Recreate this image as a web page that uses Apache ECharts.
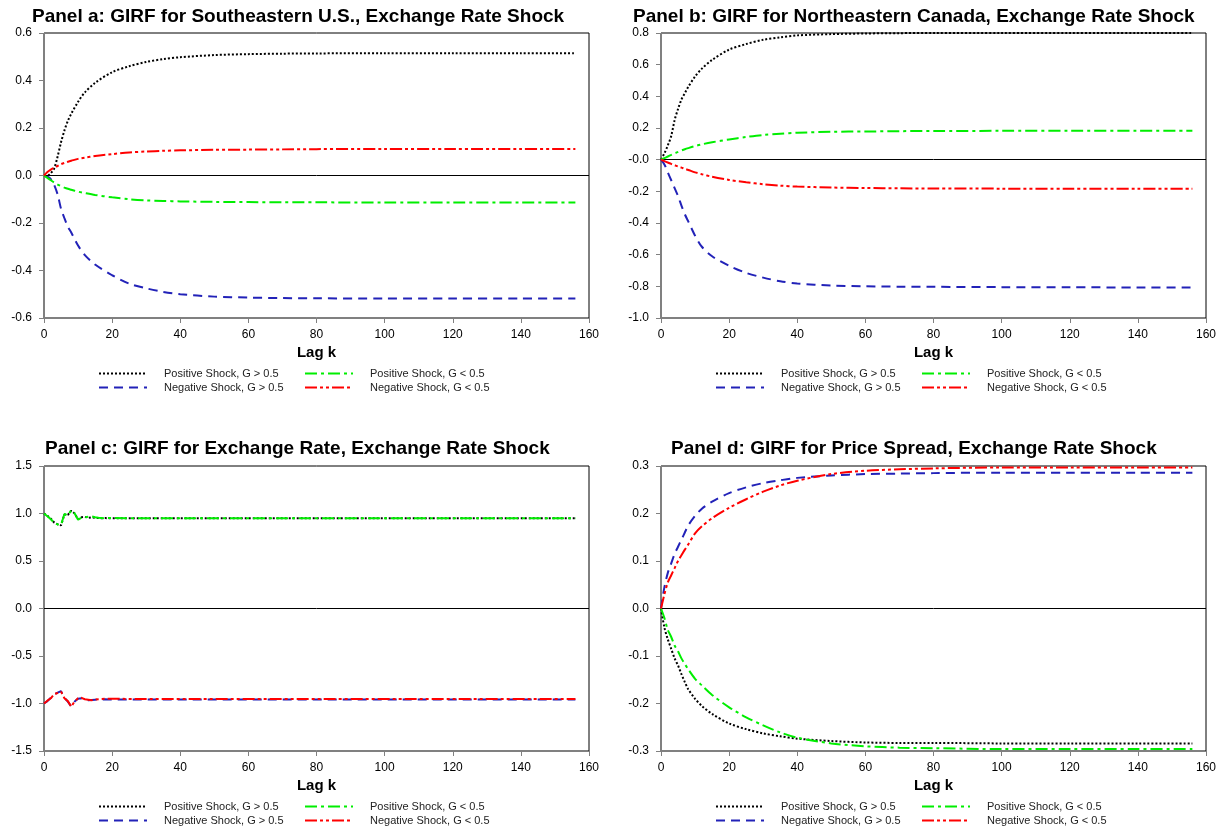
<!DOCTYPE html>
<html>
<head>
<meta charset="utf-8">
<script src="https://cdn.jsdelivr.net/npm/echarts@6/dist/echarts.min.js"></script>
<style>
html,body{margin:0;padding:0;background:#fff;}
#chart{width:1228px;height:829px;}
</style>
</head>
<body>
<div id="chart"></div>
<script>
// ---------- DATA ----------
const seriesNames = ['Positive Shock, G > 0.5', 'Negative Shock, G > 0.5', 'Positive Shock, G < 0.5', 'Negative Shock, G < 0.5'];
const panelTitles = [
  'Panel a: GIRF for Southeastern U.S., Exchange Rate Shock',
  'Panel b: GIRF for Northeastern Canada, Exchange Rate Shock',
  'Panel c: GIRF for Exchange Rate, Exchange Rate Shock',
  'Panel d: GIRF for Price Spread, Exchange Rate Shock'
];
const xTickLabels = ['0', '20', '40', '60', '80', '100', '120', '140', '160'];
const yTicksA = ['0.6', '0.4', '0.2', '0.0', '-0.2', '-0.4', '-0.6'];
const yTicksB = ['0.8', '0.6', '0.4', '0.2', '-0.0', '-0.2', '-0.4', '-0.6', '-0.8', '-1.0'];
const yTicksC = ['1.5', '1.0', '0.5', '0.0', '-0.5', '-1.0', '-1.5'];
const yTicksD = ['0.3', '0.2', '0.1', '0.0', '-0.1', '-0.2', '-0.3'];

const lags = [0, 1, 2, 3, 4, 5, 6, 7, 8, 10, 12, 15, 20, 25, 30, 35, 40, 50, 60, 70, 80, 100, 120, 140, 156];
const lagsC = [0, 1, 2, 3, 4, 5, 6, 7, 8, 9, 10, 11, 12, 13, 14, 15, 16, 17, 18, 19, 20, 25, 30, 40, 50, 60, 80, 100, 120, 140, 156];

// Panel a
const aPosHigh = [0, 0, 0.01, 0.03, 0.08, 0.14, 0.19, 0.23, 0.26, 0.31, 0.35, 0.39, 0.435, 0.46, 0.478, 0.49, 0.498, 0.507, 0.511, 0.513, 0.514, 0.515, 0.515, 0.515, 0.515];
const aNegHigh = [0, -0.005, -0.015, -0.04, -0.08, -0.14, -0.18, -0.215, -0.24, -0.295, -0.335, -0.375, -0.42, -0.455, -0.475, -0.49, -0.50, -0.51, -0.514, -0.516, -0.517, -0.518, -0.518, -0.518, -0.518];
const aPosLow = [0, -0.01, -0.02, -0.03, -0.038, -0.045, -0.051, -0.056, -0.06, -0.068, -0.074, -0.082, -0.092, -0.1, -0.105, -0.107, -0.109, -0.111, -0.112, -0.113, -0.113, -0.114, -0.114, -0.114, -0.114];
const aNegLow = [0, 0.015, 0.025, 0.033, 0.04, 0.048, 0.053, 0.058, 0.062, 0.07, 0.075, 0.082, 0.09, 0.097, 0.101, 0.104, 0.106, 0.108, 0.109, 0.11, 0.111, 0.112, 0.112, 0.112, 0.112];

// Panel b
const bPosHigh = [0, 0.04, 0.09, 0.15, 0.25, 0.32, 0.38, 0.42, 0.46, 0.525, 0.575, 0.63, 0.695, 0.73, 0.757, 0.773, 0.785, 0.793, 0.797, 0.799, 0.80, 0.80, 0.80, 0.80, 0.80];
const bNegHigh = [0, -0.03, -0.08, -0.13, -0.18, -0.23, -0.29, -0.345, -0.39, -0.48, -0.55, -0.61, -0.67, -0.715, -0.745, -0.768, -0.782, -0.795, -0.80, -0.802, -0.803, -0.805, -0.806, -0.807, -0.807];
const bPosLow = [0, 0.01, 0.02, 0.03, 0.04, 0.049, 0.058, 0.066, 0.073, 0.086, 0.097, 0.11, 0.128, 0.143, 0.156, 0.164, 0.17, 0.176, 0.178, 0.18, 0.181, 0.182, 0.183, 0.183, 0.183];
const bNegLow = [0, -0.009, -0.018, -0.027, -0.035, -0.043, -0.05, -0.058, -0.065, -0.08, -0.092, -0.108, -0.128, -0.143, -0.155, -0.164, -0.17, -0.176, -0.179, -0.181, -0.182, -0.183, -0.184, -0.184, -0.184];

// Panel c
const cPosHigh = [1.0, 0.975, 0.945, 0.905, 0.885, 0.875, 0.99, 0.985, 1.03, 1.0, 0.94, 0.96, 0.965, 0.955, 0.96, 0.955, 0.952, 0.95, 0.952, 0.95, 0.95, 0.95, 0.95, 0.95, 0.95, 0.95, 0.95, 0.95, 0.95, 0.95, 0.95];
const cNegHigh = [-1.0, -0.975, -0.94, -0.905, -0.885, -0.87, -0.94, -0.98, -1.03, -0.98, -0.95, -0.945, -0.96, -0.965, -0.962, -0.96, -0.958, -0.958, -0.956, -0.958, -0.958, -0.958, -0.958, -0.958, -0.958, -0.958, -0.958, -0.958, -0.958, -0.958, -0.958];
const cPosLow = [1.0, 0.97, 0.94, 0.9, 0.885, 0.88, 0.995, 0.98, 1.035, 1.0, 0.935, 0.955, 0.96, 0.965, 0.97, 0.96, 0.955, 0.952, 0.95, 0.952, 0.952, 0.95, 0.95, 0.95, 0.95, 0.95, 0.95, 0.95, 0.95, 0.95, 0.95];
const cNegLow = [-1.0, -0.97, -0.945, -0.9, -0.89, -0.875, -0.945, -0.975, -1.035, -0.975, -0.945, -0.94, -0.955, -0.96, -0.965, -0.96, -0.955, -0.952, -0.95, -0.95, -0.95, -0.952, -0.952, -0.952, -0.952, -0.952, -0.952, -0.952, -0.952, -0.952, -0.952];

// Panel d
const dPosHigh = [0, -0.04, -0.065, -0.085, -0.105, -0.12, -0.138, -0.155, -0.17, -0.19, -0.205, -0.222, -0.242, -0.254, -0.263, -0.269, -0.274, -0.279, -0.282, -0.283, -0.283, -0.284, -0.284, -0.284, -0.284];
const dNegHigh = [0, 0.045, 0.075, 0.095, 0.115, 0.13, 0.145, 0.16, 0.175, 0.195, 0.21, 0.225, 0.243, 0.255, 0.264, 0.27, 0.275, 0.28, 0.283, 0.284, 0.285, 0.286, 0.286, 0.286, 0.286];
const dPosLow = [0, -0.02, -0.045, -0.06, -0.078, -0.09, -0.105, -0.117, -0.128, -0.148, -0.162, -0.182, -0.208, -0.229, -0.246, -0.261, -0.272, -0.284, -0.29, -0.293, -0.294, -0.296, -0.296, -0.296, -0.296];
const dNegLow = [0, 0.03, 0.055, 0.07, 0.085, 0.1, 0.112, 0.124, 0.135, 0.158, 0.173, 0.19, 0.212, 0.23, 0.246, 0.259, 0.269, 0.283, 0.29, 0.293, 0.295, 0.297, 0.297, 0.297, 0.297];

// ---------- BUILD ----------
const FONT = 'Liberation Sans, Arial, Helvetica, sans-serif';
const lineStyles = [
  { color: '#000000', width: 2, type: [2, 2] },
  { color: '#2222b8', width: 2, type: [9, 6] },
  { color: '#00ee00', width: 2, type: [12, 4, 3, 4] },
  { color: '#ff0000', width: 2, type: [12, 3, 3, 3, 3, 3] }
];

const panels = [
  { lags: lags, data: [aPosHigh, aNegHigh, aPosLow, aNegLow], ticks: yTicksA, min: -0.6, max: 0.6, interval: 0.2, smooth: true },
  { lags: lags, data: [bPosHigh, bNegHigh, bPosLow, bNegLow], ticks: yTicksB, min: -1.0, max: 0.8, interval: 0.2, smooth: true },
  { lags: lagsC, data: [cPosHigh, cNegHigh, cPosLow, cNegLow], ticks: yTicksC, min: -1.5, max: 1.5, interval: 0.5, smooth: false },
  { lags: lags, data: [dPosHigh, dNegHigh, dPosLow, dNegLow], ticks: yTicksD, min: -0.3, max: 0.3, interval: 0.1, smooth: true }
];

const gridPos = [
  { left: 44, top: 33, width: 545, height: 285 },
  { left: 661, top: 33, width: 545, height: 285 },
  { left: 44, top: 466, width: 545, height: 285 },
  { left: 661, top: 466, width: 545, height: 285 }
];
const titlePos = [
  { left: 32, top: 7 },
  { left: 633, top: 7 },
  { left: 45, top: 439 },
  { left: 671, top: 439 }
];
const legendPos = [
  { left: 98, top: 368 },
  { left: 715, top: 368 },
  { left: 98, top: 801 },
  { left: 715, top: 801 }
];

const option = {
  animation: false,
  backgroundColor: '#ffffff',
  textStyle: { fontFamily: FONT },
  title: [], grid: [], xAxis: [], yAxis: [], legend: [], series: []
};

panels.forEach((p, i) => {
  const g = gridPos[i];
  option.title.push({
    text: panelTitles[i], left: titlePos[i].left, top: titlePos[i].top, padding: 0,
    textStyle: { fontFamily: FONT, fontWeight: 'bold', fontSize: 19, color: '#000' }
  });
  option.grid.push({
    left: g.left, top: g.top, width: g.width, height: g.height,
    show: true, borderColor: '#000', borderWidth: 1, backgroundColor: 'transparent'
  });
  option.xAxis.push({
    type: 'value', gridIndex: i, min: 0, max: 160, interval: 20,
    name: 'Lag k', nameLocation: 'middle', nameGap: 27,
    nameTextStyle: { fontFamily: FONT, fontWeight: 'bold', fontSize: 15, color: '#000' },
    axisLine: { show: true, onZero: false, lineStyle: { color: '#808080', width: 1 } },
    axisTick: { show: true, length: 5, lineStyle: { color: '#808080' } },
    axisLabel: {
      fontSize: 12, color: '#000', margin: 11, fontFamily: FONT,
      formatter: v => xTickLabels[Math.round(v / 20)]
    },
    splitLine: { show: false }
  });
  option.yAxis.push({
    type: 'value', gridIndex: i, min: p.min, max: p.max, interval: p.interval,
    axisLine: { show: true, onZero: false, lineStyle: { color: '#808080', width: 1 } },
    axisTick: { show: true, length: 5, lineStyle: { color: '#808080' } },
    axisLabel: {
      fontSize: 12, color: '#000', margin: 12, fontFamily: FONT,
      formatter: v => p.ticks[Math.round((p.max - v) / p.interval)]
    },
    splitLine: { show: false }
  });

  [[0, 1], [2, 3]].forEach((pair, k) => {
    option.legend.push({
      orient: 'vertical',
      left: legendPos[i].left + k * 206, top: legendPos[i].top,
      height: 40, padding: 0,
      itemWidth: 48, itemHeight: 10, itemGap: 3,
      selectedMode: false,
      itemStyle: { opacity: 0 },
      data: pair.map(j => seriesNames[j]),
      textStyle: { fontFamily: FONT, fontSize: 11, color: '#222', padding: [0, 0, 0, 12] }
    });
  });

  p.data.forEach((vals, j) => {
    const s = {
      name: seriesNames[j], type: 'line',
      xAxisIndex: i, yAxisIndex: i,
      data: p.lags.map((lag, n) => [lag, vals[n]]),
      symbol: 'none', showSymbol: false,
      smooth: p.smooth ? 0.3 : false,
      lineStyle: lineStyles[j],
      itemStyle: { color: lineStyles[j].color },
      z: 3 + j, silent: true
    };
    if (j === 0) {
      s.markLine = {
        silent: true, symbol: 'none', label: { show: false },
        lineStyle: { color: '#000', width: 1, type: 'solid' },
        data: [{ yAxis: 0 }]
      };
    }
    option.series.push(s);
  });
});

const chart = echarts.init(document.getElementById('chart'), null, { renderer: 'canvas' });
chart.setOption(option);
</script>
</body>
</html>
